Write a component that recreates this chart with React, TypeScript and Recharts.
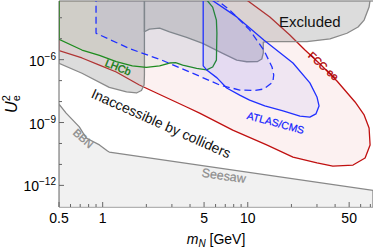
import React from "react";
import { ComposedChart, Scatter, XAxis, YAxis, ReferenceLine, Polygon } from "recharts";

// Region outlines as [m_N in GeV, log10 U_e^2], closed polygons
const bbnSeesaw = [
  [0.5, -8.12], [0.56, -8.55], [0.69, -9.21], [0.77, -9.74], [0.95, -10.07],
  [1.08, -10.36], [1.11, -10.41], [73, -12.24], [73, -13.5], [0.5, -13.5],
];
const excludedLow = [
  [0.5, -2.9], [0.5, -6.17], [0.72, -6.65], [1.11, -7.32], [1.46, -7.54], [1.71, -7.59],
  [1.85, -7.47], [1.93, -7.21], [1.94, -6.73], [1.94, -2.9],
];
const excludedHigh = [
  [1.94, -2.9], [1.94, -4.67], [2.1, -4.54], [2.47, -4.5], [2.89, -4.67], [3.79, -4.94],
  [4.89, -5.22], [6.72, -5.7], [8.4, -6.02], [9.84, -6.1], [11.7, -6.09], [12.5, -5.97],
  [12.8, -5.68], [12.8, -5.16], [13.8, -5.14], [25.6, -5.14], [36.9, -5.01], [48.3, -4.74],
  [57.6, -4.44], [63.4, -4.11], [68.6, -3.49], [69.7, -3.15], [70.8, -2.9],
];
const fccee = [
  [0.5, -2.9], [0.5, -5.57], [0.72, -5.92], [0.95, -6.26], [1.24, -6.59], [1.79, -7.21],
  [2.35, -7.59], [3.79, -8.26], [4.66, -8.55], [7.88, -9.36], [13.5, -10.07], [20.5, -10.65],
  [30, -10.93], [38.6, -11.08], [53.2, -11.03], [64.4, -10.69], [69.7, -10.07], [68.6, -9.26],
  [63.4, -8.64], [54.9, -8.02], [41.2, -7.02], [31.5, -6.21], [24.8, -5.54], [19.5, -4.82],
  [14.2, -3.96], [9.82, -3.15], [7.9, -2.7],
];
const lhcb = [
  [0.5, -2.9], [0.5, -5.03], [0.72, -5.54], [0.95, -5.8], [1.24, -6.09], [1.6, -6.3],
  [2.0, -6.37], [2.47, -6.3], [2.89, -6.16], [3.18, -6.14], [3.56, -6.26], [4.44, -6.42],
  [5.21, -6.49], [5.73, -6.35], [6.08, -6.02], [6.13, -4.73], [6.08, -4.11], [5.73, -3.49],
  [5.21, -3.15], [4.89, -2.9],
];
const atlasDashed = [
  [0.9, -2.9], [0.9, -4.74], [1.53, -5.47], [2.59, -6.04], [4.44, -6.73], [6.4, -7.21],
  [8.81, -7.45], [11.2, -7.47], [12.9, -7.4], [14.9, -7.07], [15.1, -6.73], [14.7, -6.35],
  [12.9, -5.54], [10.3, -4.58], [7.51, -3.63], [6.1, -3.15], [5.64, -2.9],
];
const atlasSolid = [
  [4.93, -2.9], [4.93, -6.3], [5.21, -6.49], [6.14, -6.87], [7.16, -7.35], [8.8, -7.69],
  [10.3, -7.93], [13.1, -8.21], [17.5, -8.45], [22.9, -8.69], [26.8, -8.74], [29.5, -8.59],
  [31, -8.21], [30, -7.78], [26.8, -7.11], [20.5, -6.16], [12.9, -5.06], [8.4, -3.96],
  [5.64, -3.15], [5.29, -2.9],
];

// text labels and where they sit (m_N, log10 U^2)
const labelText = ["Excluded", "LHCb", "FCC-ee", "ATLAS/CMS", "Inaccessible by colliders", "BBN", "Seesaw"];
const labelM = [26.8, 1.28, 33.4, 15.6, 2.53, 0.736, 6.83];
const labelLgU = [-4.16, -6.35, -6.3, -9.0, -9.04, -9.75, -11.55];

// axis ticks
const majorX = [0.5, 1, 5, 10, 50];
const minorX = [0.6, 0.7, 0.8, 0.9, 2, 3, 4, 6, 7, 8, 9, 20, 30, 40, 60, 70];
const majorYExp = [-12, -9, -6];
const minorYExp = [-11, -10, -8, -7, -5, -4];

const FONT = "'Liberation Sans', Arial, sans-serif";
const AXIS = "#666";

// thin stroke thickens the small rotated labels a bit
const labelStyle = [
  { size: 15, color: "#111", angle: 0, bold: 0 },
  { size: 10.5, color: "#107a10", angle: 22, bold: 0.35 },
  { size: 10.5, color: "#b00000", angle: 42, bold: 0.35 },
  { size: 10.5, color: "#1020ff", angle: 15, bold: 0.2 },
  { size: 14, color: "#111", angle: 24, bold: 0 },
  { size: 11, color: "#8c8c8c", angle: 42, bold: 0.3 },
  { size: 12.5, color: "#8c8c8c", angle: 8, bold: 0.2 },
];

const toPoints = (arr: number[][]) => arr.map(([m, lg]) => ({ m, u: 10 ** lg }));

const outline = (fill: string, fillOpacity: number, stroke: string, dash?: string) => (p: any) => (
  <Polygon
    points={p.points}
    fill={fill}
    fillOpacity={fillOpacity}
    stroke={stroke}
    strokeWidth={1.3}
    strokeDasharray={dash}
    strokeLinejoin="round"
  />
);

const noDot = () => <g />;

const LabelText = (p: any) => {
  const i = p.payload.i;
  const s = labelStyle[i];
  return (
    <text
      x={p.cx}
      y={p.cy}
      transform={`rotate(${s.angle} ${p.cx} ${p.cy})`}
      textAnchor="middle"
      dominantBaseline="central"
      fontSize={s.size}
      fontFamily={FONT}
      fill={s.color}
      fillOpacity={1}
      stroke={s.bold ? s.color : "none"}
      strokeWidth={s.bold}
    >
      {labelText[i]}
    </text>
  );
};

const XTick = (props: any) => {
  const { x, y, payload } = props;
  const major = majorX.includes(payload.value);
  return (
    <g>
      <line x1={x} x2={x} y1={y} y2={y - (major ? 5 : 3)} stroke={AXIS} />
      {major && (
        <text x={x} y={y + 16} textAnchor="middle" fontSize={14} fontFamily={FONT} fill="#000">
          {payload.value}
        </text>
      )}
    </g>
  );
};

const YTick = (props: any) => {
  const { x, y, payload } = props;
  const e = Math.round(Math.log10(payload.value));
  const major = majorYExp.includes(e);
  return (
    <g>
      <line x1={x} x2={x + (major ? 5 : 3)} y1={y} y2={y} stroke={AXIS} />
      {major && (
        <text x={x - 3} y={y + 6} textAnchor="end" fontSize={14} fontFamily={FONT} fill="#000">
          10
          <tspan fontSize={10} dy={-6}>{"\u2212" + Math.abs(e)}</tspan>
        </text>
      )}
    </g>
  );
};

export default function App() {
  const xTicks = [...majorX, ...minorX].sort((a, b) => a - b);
  const yTicks = [...majorYExp, ...minorYExp].sort((a, b) => a - b).map(e => 10 ** e);
  const labels = labelText.map((t, i) => ({ m: labelM[i], u: 10 ** labelLgU[i], i }));

  return (
    <div style={{ position: "absolute", left: 0, top: 0, background: "#fff" }}>
      <ComposedChart width={374} height={249} margin={{ top: 1, right: 1, bottom: 0, left: 0 }}>
        <XAxis
          type="number"
          dataKey="m"
          scale="log"
          domain={[0.5, 73]}
          allowDataOverflow
          ticks={xTicks}
          interval={0}
          tickLine={false}
          tickSize={0}
          tickMargin={0}
          tick={(p: any) => <XTick {...p} />}
          height={42}
          stroke={AXIS}
          label={{
            content: (p: any) => {
              const { x, y, width } = p.viewBox;
              return (
                <text x={x + width / 2} y={y + 37} textAnchor="middle" fontSize={14} fontFamily={FONT} fill="#000">
                  <tspan fontStyle="italic">m</tspan>
                  <tspan fontStyle="italic" fontSize={10} dy={3}>N</tspan>
                  <tspan dy={-3}> [GeV]</tspan>
                </text>
              );
            },
          }}
        />
        <YAxis
          type="number"
          dataKey="u"
          scale="log"
          domain={[9.3e-14, 6.3e-4]}
          allowDataOverflow
          ticks={yTicks}
          interval={0}
          tickLine={false}
          tickSize={0}
          tickMargin={0}
          tick={(p: any) => <YTick {...p} />}
          width={59}
          stroke={AXIS}
          label={{
            content: (p: any) => {
              const { y, height } = p.viewBox;
              const cy = y + height / 2;
              return (
                <text transform={`translate(17, ${cy}) rotate(-90)`} textAnchor="middle" fontSize={16} fontFamily={FONT} fill="#000">
                  <tspan fontStyle="italic">U</tspan>
                  <tspan fontSize={11} dy={3}>e</tspan>
                  <tspan fontSize={11} dx={-6} dy={-10}>2</tspan>
                </text>
              );
            },
          }}
        />
        <Scatter data={toPoints(bbnSeesaw)} line={outline("#ededed", 0.8, "#888")} shape={noDot} isAnimationActive={false} />
        <Scatter data={toPoints(fccee)} line={outline("#d01010", 0.06, "#c01010")} shape={noDot} isAnimationActive={false} />
        <Scatter data={toPoints(excludedLow)} line={outline("#8a8a8a", 0.3, "#8a8a8a")} shape={noDot} isAnimationActive={false} />
        <Scatter data={toPoints(excludedHigh)} line={outline("#8a8a8a", 0.3, "#8a8a8a")} shape={noDot} isAnimationActive={false} />
        <Scatter data={toPoints(lhcb)} line={outline("#30a030", 0.06, "#1e8c1e")} shape={noDot} isAnimationActive={false} />
        <Scatter data={toPoints(atlasDashed)} line={outline("#5050ff", 0.07, "#2030ff", "7 4")} shape={noDot} isAnimationActive={false} />
        <Scatter data={toPoints(atlasSolid)} line={outline("#5050ff", 0.07, "#2030ff")} shape={noDot} isAnimationActive={false} />
        <Scatter data={labels} shape={(p: any) => <LabelText {...p} />} isAnimationActive={false} />
        <ReferenceLine y={6.3e-4} stroke={AXIS} />
      </ComposedChart>
    </div>
  );
}
